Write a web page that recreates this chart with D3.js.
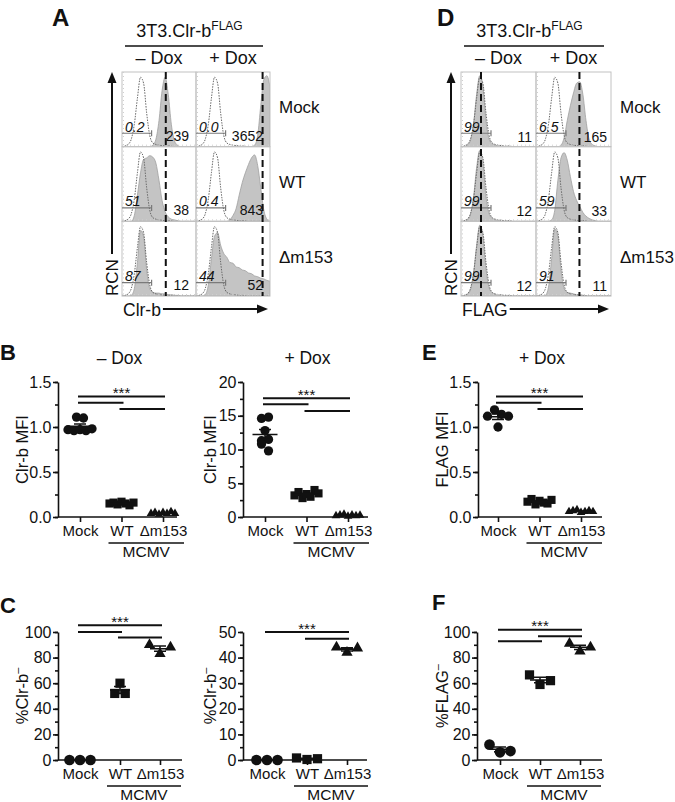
<!DOCTYPE html>
<html>
<head>
<meta charset="utf-8">
<script src="https://cdn.jsdelivr.net/npm/d3@7"></script>
<style>
body { margin:0; background:#fff; }
text { font-family: "Liberation Sans", Arial, Helvetica, sans-serif; fill:#111; }
</style>
</head>
<body>
<div id="fig"></div>
<script>
var groups = ["Mock", "WT", "Δm153"];
var doxLabels = ["– Dox", "+ Dox"];

// flow histograms, 25 bins over log fluorescence, relative cell number
var isoHist     = [0,0.01,0.03,0.1,0.3,0.65,0.93,0.85,0.45,0.15,0.05,0.03,0.02,0.015,0.01,0.01,0.005,0,0,0,0,0,0,0,0];
var clrbMockNeg = [0,0,0,0,0,0,0,0,0,0,0.02,0.1,0.35,0.75,0.93,0.7,0.3,0.08,0.02,0,0,0,0,0,0];
var clrbMockPos = [0,0,0,0,0,0,0,0,0,0,0,0,0,0,0,0,0,0,0,0.02,0.15,0.55,0.9,0.95,0.8];
var clrbWtNeg   = [0,0,0,0,0.08,0.35,0.65,0.83,0.85,0.88,0.86,0.78,0.55,0.28,0.13,0.06,0.03,0.02,0.01,0,0,0,0,0,0];
var clrbWtPos   = [0,0,0,0,0,0,0,0,0,0,0,0.02,0.08,0.17,0.35,0.52,0.65,0.76,0.85,0.89,0.75,0.45,0.15,0.03,0];
var clrbDNeg    = [0,0,0,0.01,0.1,0.45,0.88,0.8,0.35,0.1,0.05,0.04,0.04,0.03,0.03,0.02,0.02,0.01,0.01,0,0,0,0,0,0];
var clrbDPos    = [0,0,0,0.02,0.15,0.5,0.8,0.85,0.68,0.57,0.52,0.45,0.44,0.39,0.38,0.35,0.34,0.31,0.3,0.27,0.26,0.24,0.23,0.21,0.2];
var flagMockNeg = [0,0,0.02,0.08,0.3,0.7,0.95,0.8,0.35,0.1,0.04,0.02,0.01,0,0,0,0,0,0,0,0,0,0,0,0];
var flagMockPos = [0,0,0,0,0,0,0,0,0.02,0.12,0.35,0.55,0.72,0.85,0.87,0.7,0.35,0.1,0.03,0.01,0,0,0,0,0];
var flagWtNeg   = [0,0,0.02,0.09,0.32,0.72,0.95,0.78,0.33,0.1,0.04,0.02,0.01,0,0,0,0,0,0,0,0,0,0,0,0];
var flagWtPos   = [0,0,0,0,0,0.02,0.15,0.55,0.85,0.92,0.82,0.6,0.4,0.28,0.2,0.12,0.07,0.04,0.02,0.01,0,0,0,0,0];
var flagDNeg    = [0,0,0.02,0.08,0.3,0.68,0.95,0.8,0.36,0.11,0.04,0.02,0.01,0,0,0,0,0,0,0,0,0,0,0,0];
var flagDPos    = [0,0,0,0.01,0.12,0.5,0.9,0.8,0.35,0.1,0.05,0.04,0.03,0.02,0.02,0.01,0,0,0,0,0,0,0,0,0];

var clrbPct = [["0.2","0.0"],["51","0.4"],["87","44"]];
var clrbMfi = [["239","3652"],["38","843"],["12","52"]];
var flagPct = [["99","6.5"],["99","59"],["99","91"]];
var flagMfi = [["11","165"],["12","33"],["12","11"]];
var clrbDash = [14.2, 21.6];
var flagDash = [6.4, 13.9];

// B: Clr-b MFI
var mfiNegMock = [0.97,0.96,0.97,0.96,0.98,1.11,1.10];
var mfiNegWT   = [0.15,0.16,0.14,0.17,0.15,0.13,0.16];
var mfiNegD    = [0.04,0.05,0.03,0.05,0.04,0.06,0.04];
var mfiPosMock = [12.8,11.3,11.5,10.8,9.8,14.6,14.8];
var mfiPosWT   = [3.2,3.7,2.8,3.4,3.0,4.0,3.5];
var mfiPosD    = [0.2,0.3,0.4,0.1,0.3,0.2,0.25];
// E: FLAG MFI
var flagMfiMock = [1.12,1.19,1.14,1.12,1.0];
var flagMfiWT   = [0.17,0.2,0.14,0.18,0.16,0.15,0.19];
var flagMfiD    = [0.06,0.07,0.08,0.05,0.06,0.07,0.06];
// C: %Clr-b-
var pctNegMock = [0,0,0];
var pctNegWT   = [52,60,52];
var pctNegD    = [90,83,88];
var pctPosMock = [0,0,0];
var pctPosWT   = [0.8,0.2,0.5];
var pctPosD    = [44,42,43.7];
// F: %FLAG-
var pctFlagMock = [12,6,7];
var pctFlagWT   = [66.5,59,62];
var pctFlagD    = [91,85,88];

// significance bars [from, to, level]
var sigBneg = [[0,2,1.34],[0,1,1.27],[1,2,1.2]];
var sigBpos = [[0,2,17.6],[0,1,16.7],[1,2,15.7]];
var sigE    = [[0,2,1.34],[0,1,1.27],[1,2,1.2]];
var sigCneg = [[0,2,105.3],[0,1,100],[1,2,95.8]];
var sigCpos = [[0,2,50],[1,2,47.4]];
var sigF    = [[0,2,101.8],[0,1,92.7],[1,2,96.6]];

var svg = d3.select("#fig").append("svg").attr("width", 675).attr("height", 802);
var clipId = 0;

function letter(t, x, y, size) {
	svg.append("text").attr("x", x).attr("y", y).attr("font-size", size)
		.attr("font-weight", "bold").text(t);
}

function arrowHead(g, x, y, dir) {
	var p = dir == "up" ? [[x,y],[x-4.5,y+11],[x+4.5,y+11]] : [[x,y],[x-11,y-4.5],[x-11,y+4.5]];
	g.append("path").attr("d", "M" + p.join("L") + "Z").attr("fill", "#111");
}

function histPanel(p) {
	var g = svg.append("g");
	var bottom = p.top + 3 * p.rh;
	var t = g.append("text").attr("x", p.left + p.cw - 6.5).attr("y", 37)
		.attr("text-anchor", "middle").attr("font-size", 18);
	t.append("tspan").text("3T3.Clr-b");
	t.append("tspan").attr("font-size", 12).attr("dy", -7).text("FLAG");
	g.append("line").attr("x1", p.left + 3).attr("x2", p.left + 2 * p.cw - 7)
		.attr("y1", 46).attr("y2", 46).attr("stroke", "#111").attr("stroke-width", 1.5);
	doxLabels.forEach(function(d, c) {
		g.append("text").attr("x", p.left + (c + 0.5) * p.cw).attr("y", 64)
			.attr("text-anchor", "middle").attr("font-size", 18).text(d);
	});

	for (var r = 0; r < 3; r++) {
		for (var c = 0; c < 2; c++) {
			var cx = p.left + c * p.cw, cy = p.top + r * p.rh;
			var x = d3.scaleLinear().domain([0, 24]).range([cx, cx + p.cw]);
			var y = d3.scaleLinear().domain([0, 1]).range([cy + p.rh, cy]);
			var id = "clip" + (clipId++);
			g.append("clipPath").attr("id", id).append("rect")
				.attr("x", cx).attr("y", cy).attr("width", p.cw).attr("height", p.rh);
			var cg = g.append("g").attr("clip-path", "url(#" + id + ")");
			var area = d3.area().x(function(d, i) { return x(i); })
				.y0(y(0)).y1(function(d) { return y(d); }).curve(d3.curveMonotoneX);
			var line = d3.line().x(function(d, i) { return x(i); })
				.y(function(d) { return y(d); }).curve(d3.curveMonotoneX);
			cg.append("path").attr("d", area(p.hists[r][c]))
				.attr("fill", "#c4c4c4").attr("stroke", "#a0a0a0").attr("stroke-width", 0.8);
			cg.append("path").attr("d", line(isoHist)).attr("fill", "none")
				.attr("stroke", "#6a6a6a").attr("stroke-width", 1).attr("stroke-dasharray", "1.5,1.2");
			g.append("rect").attr("x", cx).attr("y", cy).attr("width", p.cw).attr("height", p.rh)
				.attr("fill", "none").attr("stroke", "#c2c2c2").attr("stroke-width", 1);
			// tick dots along the cell edges
			g.append("line").attr("x1", cx).attr("x2", cx + p.cw).attr("y1", cy + p.rh - 1.5).attr("y2", cy + p.rh - 1.5)
				.attr("stroke", "#cfcfcf").attr("stroke-dasharray", "1,3");
			g.append("line").attr("x1", cx + 1.5).attr("x2", cx + 1.5).attr("y1", cy).attr("y2", cy + p.rh)
				.attr("stroke", "#cfcfcf").attr("stroke-dasharray", "1,3");
			// gate
			var gy = y(0.18);
			g.append("path").attr("d", "M" + cx + "," + gy + "H" + x(9.6) + "M" + x(9.6) + "," + (gy - 3) + "V" + (gy + 3))
				.attr("stroke", "#7a7a7a").attr("stroke-width", 1.2).attr("fill", "none");
			g.append("text").attr("x", cx + 3).attr("y", gy - 1.5).attr("font-size", 14)
				.attr("font-style", "italic").text(p.pct[r][c]);
			g.append("text").attr("x", cx + p.cw - p.inset).attr("y", cy + p.rh - p.numLift)
				.attr("text-anchor", "end").attr("font-size", 14).text(p.mfi[r][c]);
		}
		g.append("text").attr("x", p.left + 2 * p.cw + 9).attr("y", p.top + (r + 0.5) * p.rh + 4)
			.attr("font-size", 17).text(groups[r]);
	}
	p.dash.forEach(function(b, c) {
		var x = d3.scaleLinear().domain([0, 24]).range([p.left + c * p.cw, p.left + (c + 1) * p.cw]);
		g.append("line").attr("x1", x(b)).attr("x2", x(b)).attr("y1", p.top).attr("y2", bottom)
			.attr("stroke", "#111").attr("stroke-width", 2).attr("stroke-dasharray", "7,4");
	});

	// axes arrows
	var ax = p.left - 10;
	g.append("line").attr("x1", ax).attr("x2", ax).attr("y1", bottom - 42).attr("y2", p.top + 8)
		.attr("stroke", "#111").attr("stroke-width", 2);
	arrowHead(g, ax, p.top, "up");
	g.append("text").attr("transform", "translate(" + (p.left - 4) + "," + bottom + ") rotate(-90)")
		.attr("font-size", 17).text("RCN");
	var xl = g.append("text").attr("x", p.left + 1).attr("y", bottom + 20).attr("font-size", 17.5).text(p.xlab);
	var xlEnd = p.left + 1 + xl.node().getComputedTextLength() + 2;
	var tip = p.left + 2 * p.cw - 2;
	g.append("line").attr("x1", xlEnd).attr("x2", tip - 8).attr("y1", bottom + 13).attr("y2", bottom + 13)
		.attr("stroke", "#111").attr("stroke-width", 2);
	arrowHead(g, tip, bottom + 13, "right");
}

function swarmOffsets(vals, y, rowGap, spacing, maxW) {
	var order = d3.range(vals.length).sort(function(a, b) { return vals[a] - vals[b]; });
	var rows = [], cur = null;
	order.forEach(function(i) {
		if (cur && Math.abs(y(vals[i]) - y(vals[cur[0]])) < rowGap) cur.push(i);
		else { cur = [i]; rows.push(cur); }
	});
	var off = [];
	rows.forEach(function(rw) {
		rw.sort(d3.ascending);
		var m = rw.length, sp = m > 1 ? Math.min(spacing, maxW / (m - 1)) : 0;
		rw.forEach(function(i, k) { off[i] = (k - (m - 1) / 2) * sp; });
	});
	return off;
}

function dotPlot(p) {
	var g = svg.append("g");
	var x = d3.scalePoint().domain(groups).range([p.cx0, p.cx1]);
	var y = d3.scaleLinear().domain([0, p.max]).range([p.yBot, p.yTop]);

	var minor = g.append("g").attr("transform", "translate(" + p.x0 + ",0)")
		.call(d3.axisLeft(y).tickValues(d3.range(0, p.max + 1e-9, p.minor)).tickSize(3).tickFormat(""));
	minor.select(".domain").remove();
	var ya = g.append("g").attr("transform", "translate(" + p.x0 + ",0)")
		.call(d3.axisLeft(y).tickValues(d3.range(0, p.max + 1e-9, p.major))
			.tickFormat(d3.format(p.fmt)).tickSize(5).tickSizeOuter(0).tickPadding(1.5));
	var xa = g.append("g").attr("transform", "translate(0," + p.yBot + ")")
		.call(d3.axisBottom(x).tickSize(5).tickPadding(3));
	xa.select(".domain").remove();
	g.append("line").attr("x1", p.x0).attr("x2", p.x1).attr("y1", p.yBot).attr("y2", p.yBot)
		.attr("stroke", "#111").attr("stroke-width", 1.6);
	g.selectAll(".tick line, .domain").attr("stroke", "#111").attr("stroke-width", 1.6);
	ya.selectAll("text").attr("font-size", 16).attr("fill", "#111")
		.attr("font-family", '"Liberation Sans", Arial, sans-serif');
	xa.selectAll("text").attr("font-size", 15).attr("fill", "#111")
		.attr("font-family", '"Liberation Sans", Arial, sans-serif');

	// MCMV bracket
	var my = p.yBot + 26;
	g.append("line").attr("x1", x("WT") - 13).attr("x2", x("Δm153") + 21).attr("y1", my).attr("y2", my)
		.attr("stroke", "#111").attr("stroke-width", 1.4);
	g.append("text").attr("x", (x("WT") - 13 + x("Δm153") + 21) / 2).attr("y", p.yBot + 39.5)
		.attr("text-anchor", "middle").attr("font-size", 15.5).text("MCMV");

	// y label
	var yl = g.append("text").attr("transform", "translate(" + p.ylabX + "," + ((p.yTop + p.yBot) / 2) + ") rotate(-90)")
		.attr("text-anchor", "middle").attr("dy", "0.35em").attr("font-size", 16.5);
	yl.append("tspan").text(p.ylab);
	if (p.ylabSup) yl.append("tspan").attr("font-size", 11).attr("dy", -7).text(p.ylabSup);

	if (p.title) g.append("text").attr("x", (p.x0 + p.x1) / 2 + 2).attr("y", 364)
		.attr("text-anchor", "middle").attr("font-size", 17.5).text(p.title);

	var shapes = [d3.symbolCircle, d3.symbolSquare, d3.symbolTriangle];
	var sizes = p.big ? [90, 85, 55] : [68, 66, 32];
	var halfMean = p.big ? 10 : 12.5;
	p.series.forEach(function(vals, gi) {
		var off = p.big ? swarmOffsets(vals, y, 10, 10.5, 24) : swarmOffsets(vals, y, 8.4, 7, 24);
		g.selectAll(null).data(vals).enter().append("path")
			.attr("d", d3.symbol().type(shapes[gi]).size(sizes[gi]))
			.attr("transform", function(d, i) { return "translate(" + (x(groups[gi]) + off[i]) + "," + y(d) + ")"; })
			.attr("fill", "#111");
		var m = d3.mean(vals);
		var sem = d3.deviation(vals) / Math.sqrt(vals.length) || 0;
		var cx = x(groups[gi]);
		g.append("path")
			.attr("d", "M" + (cx - halfMean) + "," + y(m) + "H" + (cx + halfMean) +
				"M" + cx + "," + y(m - sem) + "V" + y(m + sem) +
				"M" + (cx - 6) + "," + y(m - sem) + "H" + (cx + 6) +
				"M" + (cx - 6) + "," + y(m + sem) + "H" + (cx + 6))
			.attr("stroke", "#111").attr("stroke-width", 1.5).attr("fill", "none");
	});

	p.sig.forEach(function(s, k) {
		var ly = y(s[2]);
		g.append("line").attr("x1", x(groups[s[0]]) - 2).attr("x2", x(groups[s[1]]) + 2)
			.attr("y1", ly).attr("y2", ly).attr("stroke", "#111").attr("stroke-width", 2);
		if (k == 0) g.append("text").attr("x", (x(groups[s[0]]) + x(groups[s[1]])) / 2).attr("y", ly + 1.5)
			.attr("text-anchor", "middle").attr("font-size", 15).attr("fill", "#333").text("***");
	});
}

letter("A", 52, 26, 24);
letter("D", 437, 26, 24);
letter("B", 0, 360, 22);
letter("E", 422, 360, 22);
letter("C", 0, 613, 22);
letter("F", 432, 610, 22);

histPanel({left: 122, top: 72, cw: 74, rh: 74.7, inset: 7, numLift: 6,
	hists: [[clrbMockNeg, clrbMockPos], [clrbWtNeg, clrbWtPos], [clrbDNeg, clrbDPos]],
	pct: clrbPct, mfi: clrbMfi, dash: clrbDash, xlab: "Clr-b"});
histPanel({left: 461, top: 72, cw: 75, rh: 74.7, inset: 4, numLift: 5,
	hists: [[flagMockNeg, flagMockPos], [flagWtNeg, flagWtPos], [flagDNeg, flagDPos]],
	pct: flagPct, mfi: flagMfi, dash: flagDash, xlab: "FLAG"});

dotPlot({x0: 58, x1: 177, cx0: 80, cx1: 163, yTop: 382, yBot: 517, max: 1.5, major: 0.5, minor: 0.25, fmt: ".1f",
	series: [mfiNegMock, mfiNegWT, mfiNegD], sig: sigBneg, title: "– Dox", ylab: "Clr-b MFI", ylabX: 22, big: false});
dotPlot({x0: 243, x1: 368, cx0: 265, cx1: 348, yTop: 382, yBot: 517, max: 20, major: 5, minor: 2.5, fmt: "d",
	series: [mfiPosMock, mfiPosWT, mfiPosD], sig: sigBpos, title: "+ Dox", ylab: "Clr-b MFI", ylabX: 210, big: false});
dotPlot({x0: 478, x1: 602, cx0: 498, cx1: 581, yTop: 382, yBot: 517, max: 1.5, major: 0.5, minor: 0.25, fmt: ".1f",
	series: [flagMfiMock, flagMfiWT, flagMfiD], sig: sigE, title: "+ Dox", ylab: "FLAG MFI", ylabX: 442, big: false});
dotPlot({x0: 58, x1: 182, cx0: 80, cx1: 160, yTop: 632, yBot: 760, max: 100, major: 20, minor: 10, fmt: "d",
	series: [pctNegMock, pctNegWT, pctNegD], sig: sigCneg, ylab: "%Clr-b", ylabSup: "–", ylabX: 22, big: true});
dotPlot({x0: 243, x1: 367, cx0: 267, cx1: 347, yTop: 632, yBot: 760, max: 50, major: 10, minor: 5, fmt: "d",
	series: [pctPosMock, pctPosWT, pctPosD], sig: sigCpos, ylab: "%Clr-b", ylabSup: "–", ylabX: 210, big: true});
dotPlot({x0: 477, x1: 602, cx0: 500, cx1: 580, yTop: 632, yBot: 760, max: 100, major: 20, minor: 10, fmt: "d",
	series: [pctFlagMock, pctFlagWT, pctFlagD], sig: sigF, ylab: "%FLAG", ylabSup: "–", ylabX: 442, big: true});
</script>
</body>
</html>
